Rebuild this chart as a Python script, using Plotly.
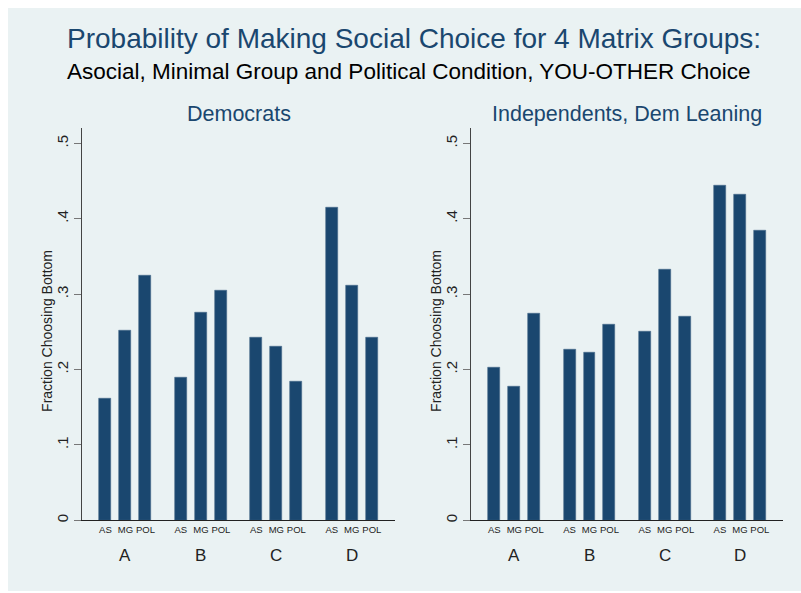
import plotly.graph_objects as go

groups = ["A", "B", "C", "D"]
conditions = ["AS", "MG", "POL"]
panels = ["Democrats", "Independents, Dem Leaning"]

dem_values = [0.161, 0.252, 0.325,
              0.189, 0.276, 0.305,
              0.242, 0.230, 0.184,
              0.415, 0.311, 0.243]
ind_values = [0.203, 0.177, 0.274,
              0.226, 0.223, 0.260,
              0.250, 0.332, 0.270,
              0.444, 0.432, 0.384]

ytick_vals = [0, 0.1, 0.2, 0.3, 0.4, 0.5]
ytick_text = ["0", ".1", ".2", ".3", ".4", ".5"]

W, H = 801, 593
NAVY = "#1a476f"
BG = "#eaf2f3"
FONT = "Liberation Sans, Arial, sans-serif"
GROUP_STEP = 3.77

xpos = [g * GROUP_STEP + k for g in range(len(groups)) for k in range(len(conditions))]
xlabels = [c for _ in groups for c in conditions]
gcenters = [g * GROUP_STEP + 1 for g in range(len(groups))]

def px(x):
    return x / W

def py(y):
    return 1 - y / H

fig = go.Figure()

domains_x = [(px(82), px(395)), (px(471), px(783))]
domain_y = (py(522), py(128))

for i, vals in enumerate([dem_values, ind_values]):
    xa = "x" if i == 0 else "x2"
    ya = "y" if i == 0 else "y2"
    fig.add_trace(go.Bar(
        x=xpos, y=vals, width=0.6,
        marker=dict(color=NAVY, line=dict(color="#47698a", width=0.6)),
        xaxis=xa, yaxis=ya, showlegend=False, hoverinfo="y",
    ))
    xk = "xaxis" if i == 0 else "xaxis2"
    yk = "yaxis" if i == 0 else "yaxis2"
    fig.layout[xk] = dict(
        domain=list(domains_x[i]), anchor=ya, range=[-1.17, 14.47],
        tickvals=xpos, ticktext=xlabels, tickfont=dict(size=9.5, color="#222", family=FONT),
        showline=True, linecolor="#222", linewidth=1.2, showgrid=False,
        zeroline=False, ticks="", fixedrange=True,
    )
    fig.layout[yk] = dict(
        domain=list(domain_y), anchor=xa, range=[0, 0.521],
        tickvals=ytick_vals, ticktext=ytick_text, tickangle=-90,
        tickfont=dict(size=15, color="#222", family=FONT),
        showline=True, linecolor="#444", linewidth=1.2,
        showgrid=True, gridcolor=BG, gridwidth=1.2,
        zeroline=False, ticks="outside", ticklen=7, tickcolor="#777", tickwidth=1.2,
        fixedrange=True,
    )
    # plot area white background
    fig.add_shape(type="rect", xref="paper", yref="paper",
                  x0=domains_x[i][0], x1=domains_x[i][1], y0=domain_y[0], y1=domain_y[1],
                  fillcolor="white", line=dict(width=0), layer="below")
    # panel title
    fig.add_annotation(text=panels[i], xref="paper", yref="paper",
                       x=(domains_x[i][0] + domains_x[i][1]) / 2, y=py(114),
                       xanchor="center", yanchor="middle", showarrow=False,
                       font=dict(size=21.5, color=NAVY, family=FONT))
    # y axis title
    fig.add_annotation(text="Fraction Choosing Bottom", xref="paper", yref="paper",
                       x=domains_x[i][0] - px(35), y=py(332), textangle=-90,
                       xanchor="center", yanchor="middle", showarrow=False,
                       font=dict(size=14, color="#222", family=FONT))
    # group labels
    for g, name in enumerate(groups):
        fig.add_annotation(text=name, xref=xa, yref="paper",
                           x=gcenters[g], y=py(557),
                           xanchor="center", yanchor="middle", showarrow=False,
                           font=dict(size=17, color="#222", family=FONT))

# outer background
fig.add_shape(type="rect", xref="paper", yref="paper",
              x0=px(8), x1=1.0, y0=0, y1=py(8),
              fillcolor=BG, line=dict(width=0), layer="below")

fig.add_annotation(text="Probability of Making Social Choice for 4 Matrix Groups:",
                   xref="paper", yref="paper", x=px(413.5), y=py(39),
                   xanchor="center", yanchor="middle", showarrow=False,
                   font=dict(size=28, color=NAVY, family=FONT))
fig.add_annotation(text="Asocial, Minimal Group and Political Condition, YOU-OTHER Choice",
                   xref="paper", yref="paper", x=px(409), y=py(72),
                   xanchor="center", yanchor="middle", showarrow=False,
                   font=dict(size=22.5, color="black", family=FONT))

fig.update_layout(
    width=W, height=H, margin=dict(l=0, r=0, t=0, b=0),
    paper_bgcolor="white", plot_bgcolor="rgba(0,0,0,0)",
    bargap=0, font=dict(family=FONT),
)

fig.write_html("out.html")
